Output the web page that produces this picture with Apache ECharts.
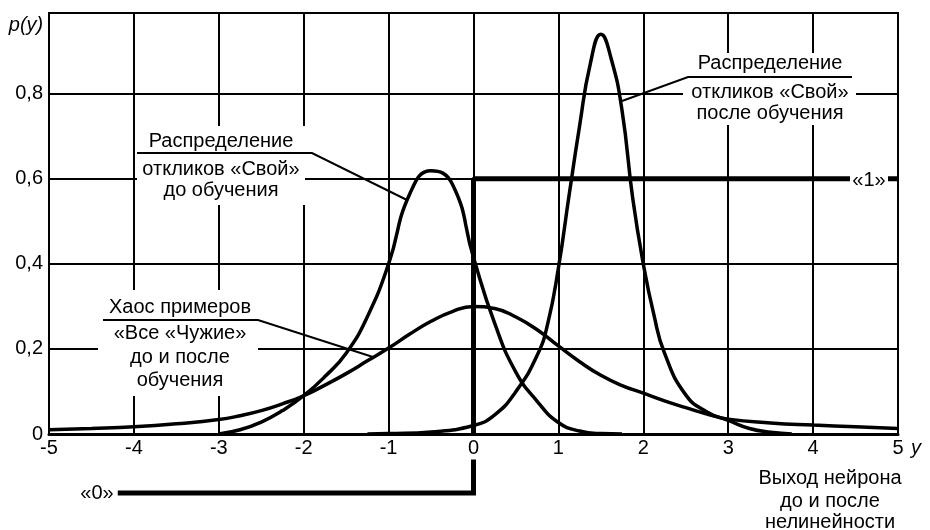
<!DOCTYPE html>
<html>
<head>
<meta charset="utf-8">
<script src="https://cdn.jsdelivr.net/npm/echarts@6/dist/echarts.min.js"></script>
<style>html,body{margin:0;padding:0;background:#fff}#c{width:930px;height:530px}</style>
</head>
<body>
<div id="c"></div>
<script>
// ---- data ----
const xTicks = [-5, -4, -3, -2, -1, 0, 1, 2, 3, 4, 5];
const yTicks = [0, 0.2, 0.4, 0.6, 0.8];

// "Хаос примеров «Все «Чужие»" (foreign), x and p(y)
const foreignX = [-5, -4.5, -4, -3.5, -3, -2.75, -2.5, -2.25, -2, -1.75, -1.5, -1.25, -1, -0.75, -0.5, -0.25, 0, 0.25, 0.5, 0.75, 1, 1.25, 1.5, 1.75, 2, 2.25, 2.5, 2.75, 3, 3.5, 4, 4.5, 5];
const foreignY = [0.010, 0.013, 0.017, 0.024, 0.034, 0.043, 0.055, 0.071, 0.090, 0.115, 0.142, 0.172, 0.202, 0.235, 0.265, 0.288, 0.300, 0.295, 0.275, 0.245, 0.207, 0.170, 0.138, 0.114, 0.096, 0.078, 0.062, 0.047, 0.035, 0.026, 0.021, 0.017, 0.013];

// "Распределение откликов «Свой» до обучения"
const beforeX = [-3, -2.75, -2.5, -2.25, -2, -1.75, -1.5, -1.25, -1, -0.75, -0.5, -0.25, 0, 0.25, 0.5, 0.75, 1, 1.25, 1.5, 1.75];
const beforeY = [0.0, 0.010, 0.028, 0.055, 0.090, 0.135, 0.190, 0.276, 0.400, 0.565, 0.619, 0.588, 0.415, 0.260, 0.145, 0.077, 0.027, 0.007, 0.001, 0.0];

// "Распределение откликов «Свой» после обучения"
const afterX = [-1.25, -1, -0.5, 0, 0.25, 0.5, 0.75, 0.875, 1.0, 1.125, 1.25, 1.375, 1.5, 1.625, 1.75, 1.875, 2.0, 2.125, 2.25, 2.5, 2.75, 3.0, 3.25, 3.5, 3.75];
const afterY = [0.0, 0.001, 0.005, 0.020, 0.045, 0.100, 0.185, 0.260, 0.390, 0.560, 0.725, 0.870, 0.940, 0.880, 0.760, 0.555, 0.400, 0.280, 0.190, 0.092, 0.052, 0.032, 0.013, 0.004, 0.0];

// threshold (step) nonlinearity: «0» below, «1» above
const stepThreshold = 0;
const stepLow = -0.139;     // level of the «0» line (drawn below the axis)
const stepLowStartX = -4.19;
const stepHigh = 0.6;       // level of the «1» line
const stepLabelGap = -0.06; // where the vertical line resumes below the "0" tick label

const pair = (xs, ys) => xs.map((x, i) => [x, ys[i]]);

const FONT = '"Liberation Sans", Arial, Helvetica, sans-serif';
const chart = echarts.init(document.getElementById('c'), null, {renderer: 'canvas'});

const txt = (x, y, s, italic) => ({
  type: 'text', z: 10,
  style: {x: x, y: y, text: s, fill: '#000', font: (italic ? 'italic ' : '') + '20px ' + FONT, textAlign: 'center', textVerticalAlign: 'middle'}
});
const rect = (x, y, w, h) => ({type: 'rect', z: 5, shape: {x: x, y: y, width: w, height: h}, style: {fill: '#fff'}});
const poly = (pts, w) => ({type: 'polyline', z: 10, shape: {points: pts}, style: {stroke: '#000', lineWidth: w || 2, fill: null}});

const curveStyle = {color: '#000', width: 3.5};

chart.setOption({
  animation: false,
  backgroundColor: '#fff',
  grid: {left: 49, right: 32, top: 13, bottom: 96, show: true, borderColor: '#000', borderWidth: 2, backgroundColor: 'transparent'},
  xAxis: {
    type: 'value', min: xTicks[0], max: xTicks[xTicks.length - 1], interval: 1,
    axisLine: {show: true, onZero: false, lineStyle: {color: '#000', width: 3}},
    axisTick: {show: false},
    splitLine: {show: true, lineStyle: {color: '#000', width: 2}},
    axisLabel: {color: '#000', fontSize: 20, fontFamily: FONT, margin: 4,
      formatter: v => xTicks.indexOf(v) >= 0 ? String(v) : ''}
  },
  yAxis: {
    type: 'value', min: 0, max: 0.99, interval: 0.2,
    axisLine: {show: true, lineStyle: {color: '#000', width: 2}},
    axisTick: {show: false},
    splitLine: {show: true, lineStyle: {color: '#000', width: 2}},
    axisLabel: {color: '#000', fontSize: 20, fontFamily: FONT, margin: 6,
      formatter: v => {
        const t = yTicks.find(k => Math.abs(k - v) < 1e-9);
        if (t === undefined) return '';
        return t === 0 ? '0' : t.toFixed(1).replace('.', ',');
      }}
  },
  series: [
    {type: 'line', data: pair(foreignX, foreignY), smooth: 0.5, symbol: 'none', lineStyle: curveStyle, z: 3},
    {type: 'line', data: pair(beforeX, beforeY), smooth: 0.5, symbol: 'none', lineStyle: curveStyle, z: 3},
    {type: 'line', data: pair(afterX, afterY), smooth: 0.5, symbol: 'none', lineStyle: curveStyle, z: 3},
    {type: 'line', data: [[stepThreshold, 0], [stepThreshold, stepHigh], [xTicks[xTicks.length - 1], stepHigh]],
      symbol: 'none', lineStyle: {color: '#000', width: 5}, z: 4},
    {type: 'line', clip: false, data: [[stepLowStartX, stepLow], [stepThreshold, stepLow], [stepThreshold, stepLabelGap]],
      symbol: 'none', lineStyle: {color: '#000', width: 5, join: 'miter'}, z: 4}
  ],
  graphic: [
    // box A: before training
    rect(137, 126, 168, 79),
    txt(221, 141, 'Распределение'),
    poly([[137, 153], [312, 153], [407, 200]]),
    txt(221, 169, 'откликов «Свой»'),
    txt(221, 190, 'до обучения'),
    // box B: after training
    rect(683, 53, 173, 72),
    txt(770, 63, 'Распределение'),
    poly([[852, 77], [688, 77], [622, 101]]),
    txt(770, 92, 'откликов «Свой»'),
    txt(770, 113, 'после обучения'),
    // box C: foreign
    rect(98, 290, 160, 106),
    txt(180, 307, 'Хаос примеров'),
    poly([[103, 320], [258, 320], [373, 357]]),
    txt(180, 333, '«Все «Чужие»'),
    txt(180, 357, 'до и после'),
    txt(180, 380, 'обучения'),
    // step labels
    rect(850, 168, 38, 24),
    txt(869, 180, '«1»'),
    txt(97, 493, '«0»'),
    // axis names
    txt(26, 25, 'p(y)', true),
    txt(916, 448, 'y', true),
    txt(830, 478, 'Выход нейрона'),
    txt(830, 501, 'до и после'),
    txt(830, 522, 'нелинейности')
  ]
});
</script>
</body>
</html>
